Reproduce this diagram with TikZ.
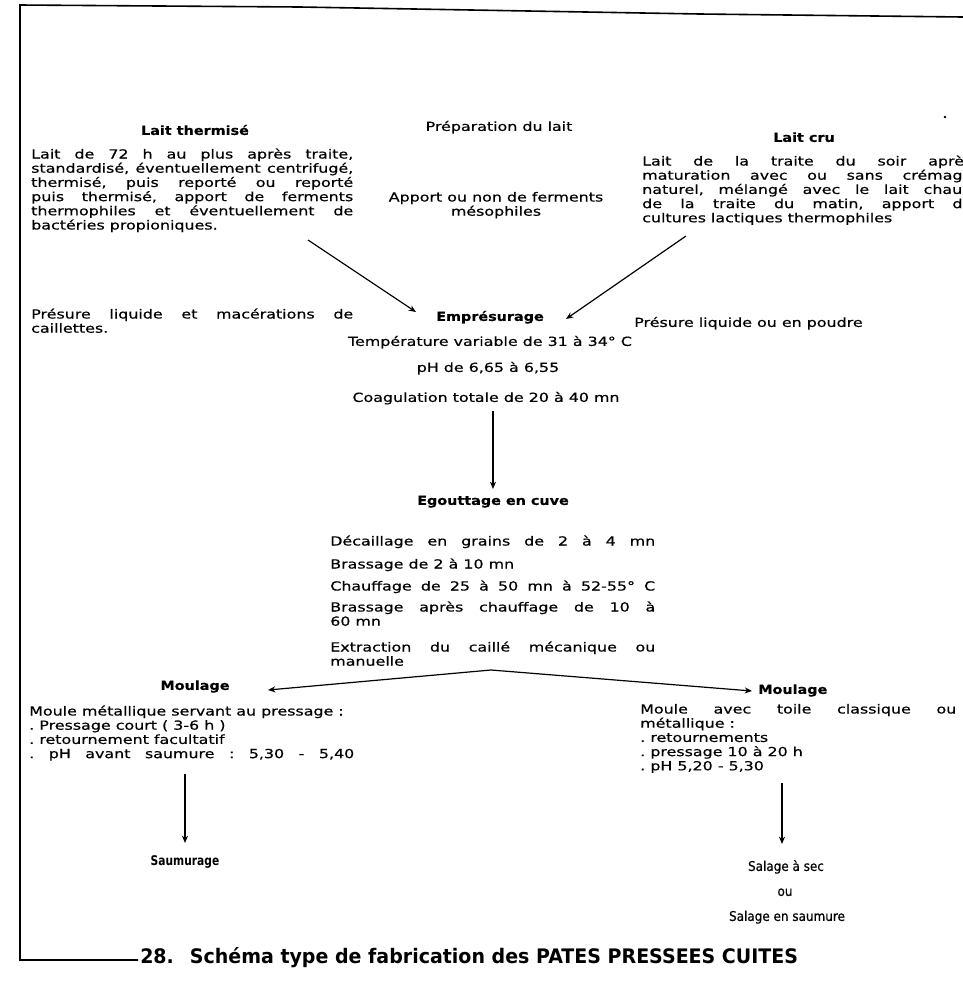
\documentclass[tikz,border=0pt]{standalone}
\usepackage{fontspec}
\usetikzlibrary{arrows.meta}

% Typewriter-like faces: a wide, low sans for the body, narrower ones for the end steps
\newfontfamily\twfont[FakeStretch=1.27,FakeBold=0.5]{DejaVu Sans}
\newfontfamily\hdfont[FakeStretch=1.15,FakeBold=0.4]{DejaVu Sans}
\newfontfamily\salfont[FakeStretch=0.9,FakeBold=0.4]{DejaVu Sans}
\newfontfamily\saufont[FakeStretch=0.8]{DejaVu Sans}
\newfontfamily\capfont[FakeStretch=0.95]{DejaVu Sans}

\newcommand\bodyfont{\twfont\fontsize{9.375}{10.65}\selectfont\frenchspacing}
\newcommand\headfont{\hdfont\bfseries\fontsize{9.375}{10.65}\selectfont}

% Paragraph blocks built line by line; the block's baseline is its first line
\newcommand\textblock[2]{\vtop{\bodyfont\hsize=#1\relax\parindent=0pt
  \baselineskip=10.65pt\lineskiplimit=-20pt\lineskip=0pt #2}}
\newcommand\jline[1]{{\spaceskip=\fontdimen2\font plus 1fil minus \fontdimen4\font\relax
  \hbox to\hsize{#1}}}
\newcommand\fline[1]{\hbox to\hsize{#1\hfil}}
\newcommand\cenline[1]{\hbox to\hsize{\hfil#1\hfil}}

\tikzset{
  body/.style={inner sep=0pt, anchor=mid, font=\bodyfont},
  head/.style={inner sep=0pt, anchor=mid, font=\headfont},
  blk/.style={inner sep=0pt, anchor=base west},
  arr/.style={-{Stealth[length=5.5pt,width=4.5pt]}, line width=0.9pt},
  frame/.style={line width=1.2pt, line join=miter}
}

\begin{document}
\begin{tikzpicture}[x=0.75pt,y=-0.75pt]
\useasboundingbox (0,0) rectangle (963,983);
\fill[white] (0,0) rectangle (963,983);
\begin{scope}
\clip (0,0) rectangle (963,983);

% frame
\draw[frame] (138,960) -- (20,960) -- (20,5) -- (300,7) -- (700,14) -- (963,17);

% milk preparation
\node[head] (thermT) at (195,132) {Lait thermisé};
\node[body] (prep) at (499,128) {Préparation du lait};
\node[head] (cruT) at (804,139) {Lait cru};
\fill (945,117) circle (1.3);

\node[blk] (thermP) at (31,158.5) {\textblock{241.5pt}{%
  \jline{Lait de 72 h au plus après traite,}
  \jline{standardisé, éventuellement centrifugé,}
  \jline{thermisé, puis reporté ou reporté}
  \jline{puis thermisé, apport de ferments}
  \jline{thermophiles et éventuellement de}
  \fline{bactéries propioniques.}}};

\node[inner sep=0pt, anchor=base] (apport) at (496,201.5) {\textblock{200pt}{%
  \cenline{Apport ou non de ferments}
  \cenline{mésophiles}}};

\node[blk] (cruP) at (642,165.5) {\textblock{247.5pt}{%
  \jline{Lait de la traite du soir après}
  \jline{maturation avec ou sans crémage}
  \jline{naturel, mélangé avec le lait chaud}
  \jline{de la traite du matin, apport de}
  \fline{cultures lactiques thermophiles}}};

% renneting
\node[blk] (presG) at (31,318.5) {\textblock{241.5pt}{%
  \jline{Présure liquide et macérations de}
  \fline{caillettes.}}};
\node[head] (emp) at (490,318) {Emprésurage};
\node[body, anchor=mid west] (presD) at (634,324) {Présure liquide ou en poudre};
\node[body] (temp) at (490,343) {Température variable de 31 à 34° C};
\node[body] (ph) at (488,369) {pH de 6,65 à 6,55};
\node[body] (coag) at (486,399) {Coagulation totale de 20 à 40 mn};

\coordinate (thermEnd) at (308,240);
\coordinate (empL) at (416,312);
\coordinate (cruEnd) at (686,236);
\coordinate (empR) at (566,319);
\draw[arr] (thermEnd) -- (empL);
\draw[arr] (cruEnd) -- (empR);

% draining in the vat
\coordinate (coagOut) at (493,411);
\coordinate (egIn) at (493,489);
\draw[arr] (coagOut) -- (egIn);
\node[head] (egout) at (493,502) {Egouttage en cuve};

\node[blk] (dec) at (330,545.5) {\textblock{243.75pt}{\jline{Décaillage en grains de 2 à 4 mn}}};
\node[blk] (bra1) at (330,568.5) {\textblock{243.75pt}{\fline{Brassage de 2 à 10 mn}}};
\node[blk] (chauf) at (330,590.5) {\textblock{243.75pt}{\jline{Chauffage de 25 à 50 mn à 52-55° C}}};
\node[blk] (bra2) at (330,611.5) {\textblock{243.75pt}{%
  \jline{Brassage après chauffage de 10 à}
  \fline{60 mn}}};
\node[blk] (extr) at (330,651.5) {\textblock{243.75pt}{%
  \jline{Extraction du caillé mécanique ou}
  \fline{manuelle}}};

% moulding, two ways
\coordinate (split) at (491,670);
\coordinate (moulGIn) at (268,690);
\coordinate (moulDIn) at (752,691);
\draw[arr] (split) -- (moulGIn);
\draw[arr] (split) -- (moulDIn);

\node[head] (moulG) at (195,687) {Moulage};
\node[head, anchor=mid west] (moulD) at (758,691) {Moulage};

\node[blk] (moulGP) at (29,715.5) {\textblock{243.75pt}{%
  \fline{Moule métallique servant au pressage :}
  \fline{. Pressage court ( 3-6 h )}
  \fline{. retournement facultatif}
  \jline{. pH avant saumure : 5,30 - 5,40}}};

\node[blk] (moulDP) at (640,713.5) {\textblock{237pt}{%
  \jline{Moule avec toile classique ou}
  \fline{métallique :}
  \fline{. retournements}
  \fline{. pressage 10 à 20 h}
  \fline{. pH 5,20 - 5,30}}};

% salting
\coordinate (moulGOut) at (185,774);
\coordinate (saumIn) at (185,843);
\draw[arr] (moulGOut) -- (saumIn);
\node[inner sep=0pt, anchor=mid, font=\saufont\bfseries\fontsize{10}{12}\selectfont] (saum) at (185,863) {Saumurage};

\coordinate (moulDOut) at (782,783);
\coordinate (salIn) at (782,844);
\draw[arr] (moulDOut) -- (salIn);
\tikzset{sal/.style={inner sep=0pt, anchor=mid, font=\salfont\fontsize{10}{12}\selectfont}}
\node[sal] (salSec) at (786,868) {Salage à sec};
\node[sal] (salOu) at (785,893) {ou};
\node[sal] (salSaum) at (787,918) {Salage en saumure};

% caption
\node[inner sep=0pt, anchor=base west, font=\capfont\bfseries\fontsize{15}{18}\selectfont] (cap) at (140,963)
  {28.\hspace{12pt}Schéma type de fabrication des PATES PRESSEES CUITES};
\end{scope}
\end{tikzpicture}
\end{document}
